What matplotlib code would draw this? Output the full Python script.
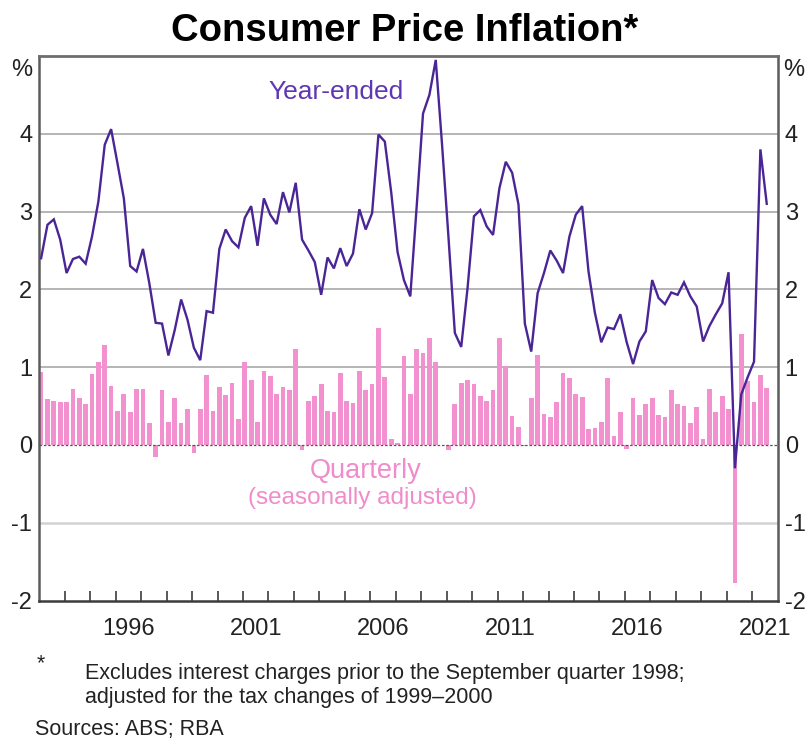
import matplotlib
matplotlib.use("Agg")
import matplotlib.pyplot as plt
import numpy as np

plt.rcParams['font.family'] = ['Liberation Sans', 'DejaVu Sans']

start_year = 1993  # first observation: March quarter 1993, last: September quarter 2021

year_ended = [
    2.40, 2.83, 2.90, 2.64, 2.21, 2.39, 2.42, 2.33,   # 1993-1994
    2.68, 3.13, 3.86, 4.06, 3.62, 3.17, 2.30, 2.23,   # 1995-1996
    2.52, 2.08, 1.57, 1.56, 1.15, 1.48, 1.87, 1.61,   # 1997-1998
    1.25, 1.09, 1.72, 1.70, 2.52, 2.77, 2.62, 2.54,   # 1999-2000
    2.92, 3.07, 2.56, 3.17, 2.96, 2.84, 3.25, 2.99,   # 2001-2002
    3.37, 2.64, 2.50, 2.35, 1.93, 2.41, 2.27, 2.53,   # 2003-2004
    2.30, 2.46, 3.03, 2.77, 2.98, 3.99, 3.90, 3.25,   # 2005-2006
    2.48, 2.12, 1.91, 3.06, 4.26, 4.50, 4.95, 3.85,   # 2007-2008
    2.67, 1.44, 1.26, 2.02, 2.94, 3.02, 2.81, 2.70,   # 2009-2010
    3.30, 3.64, 3.50, 3.09, 1.56, 1.20, 1.95, 2.21,   # 2011-2012
    2.50, 2.37, 2.21, 2.68, 2.96, 3.07, 2.23, 1.70,   # 2013-2014
    1.32, 1.51, 1.49, 1.68, 1.32, 1.04, 1.33, 1.46,   # 2015-2016
    2.12, 1.89, 1.81, 1.96, 1.93, 2.09, 1.91, 1.78,   # 2017-2018
    1.33, 1.53, 1.68, 1.82, 2.22, -0.30, 0.65, 0.87,  # 2019-2020
    1.07, 3.80, 3.10,                                 # 2021
]

quarterly = [
    0.94, 0.59, 0.57, 0.55, 0.55, 0.72, 0.60, 0.53,   # 1993-1994
    0.91, 1.07, 1.28, 0.76, 0.44, 0.66, 0.42, 0.72,   # 1995-1996
    0.72, 0.28, -0.15, 0.70, 0.30, 0.60, 0.28, 0.46,  # 1997-1998
    -0.10, 0.46, 0.90, 0.44, 0.74, 0.64, 0.80, 0.33,  # 1999-2000
    1.07, 0.84, 0.30, 0.95, 0.88, 0.66, 0.75, 0.70,   # 2001-2002
    1.23, -0.06, 0.57, 0.63, 0.78, 0.44, 0.42, 0.93,  # 2003-2004
    0.56, 0.54, 0.95, 0.70, 0.78, 1.50, 0.87, 0.08,   # 2005-2006
    0.02, 1.14, 0.66, 1.23, 1.18, 1.37, 1.07, 0.00,   # 2007-2008
    -0.07, 0.53, 0.80, 0.84, 0.78, 0.63, 0.57, 0.71,  # 2009-2010
    1.37, 1.02, 0.37, 0.23, -0.02, 0.60, 1.15, 0.40,  # 2011-2012
    0.36, 0.55, 0.92, 0.86, 0.65, 0.62, 0.20, 0.22,   # 2013-2014
    0.30, 0.86, 0.12, 0.42, -0.05, 0.60, 0.39, 0.53,  # 2015-2016
    0.60, 0.39, 0.36, 0.70, 0.53, 0.50, 0.28, 0.49,   # 2017-2018
    0.08, 0.72, 0.42, 0.63, 0.46, -1.78, 1.42, 0.82,  # 2019-2020
    0.55, 0.90, 0.73,                                 # 2021
]

year_labels = ["1996", "2001", "2006", "2011", "2016", "2021"]
y_ticks = [-2, -1, 0, 1, 2, 3, 4]

LINE_C = "#4a2596"
TEXT_PURPLE = "#5e37b2"
BAR_C = "#f391d0"
BAR_TEXT = "#f08ccb"
GRID_C = "#b4b4b4"
FS = 17

n = len(year_ended)
x = start_year + 0.07 + 0.25 * np.arange(n)

fig = plt.figure(figsize=(8.09, 7.38), dpi=100)
ax = fig.add_axes([0.0486, 0.1863, 0.9127, 0.7378])

ax.set_xlim(1993, 2022)
ax.set_ylim(-2, 5)

for v in [1, 2, 3, 4]:
    ax.axhline(v, color=GRID_C, lw=1.4, zorder=0)
ax.axhline(-1, color="#d2d2d2", lw=1.8, zorder=0)

ax.bar(x, quarterly, width=0.185, color=BAR_C, edgecolor="none", zorder=2)
ax.axhline(0, color="#555555", lw=0.9, ls=(0, (2, 1.5)), zorder=3)
ax.plot(x, year_ended, color=LINE_C, lw=1.7, zorder=4, solid_joinstyle="miter")

# spines
for s in ["left", "right"]:
    ax.spines[s].set_color("#5c5c5c")
    ax.spines[s].set_linewidth(1.8)
ax.spines["top"].set_color("#6e6e6e")
ax.spines["top"].set_linewidth(2.0)
ax.spines["bottom"].set_color("#3c3c3c")
ax.spines["bottom"].set_linewidth(1.8)

# x ticks: year boundaries, labels centred on years
ax.set_xticks(np.arange(1994, 2022))
ax.set_xticklabels([])
ax.tick_params(axis="x", which="major", direction="in", length=7.5, width=1.2, color="#3c3c3c")
ax.set_xticks([int(y) + 0.5 for y in year_labels], minor=True)
ax.set_xticklabels(year_labels, minor=True, fontsize=FS, color="#222222")
ax.tick_params(axis="x", which="minor", length=0, pad=12.5)

# y ticks on both sides
ax.set_yticks(y_ticks)
ax.set_yticklabels([str(v) for v in y_ticks], fontsize=FS, color="#222222")
ax.tick_params(axis="y", length=0, pad=5, labelleft=True, labelright=True)

# % labels
fig.text(22 / 809, 1 - 70 / 738, "%", fontsize=FS, ha="center", va="center", color="#222222")
fig.text(794 / 809, 1 - 70 / 738, "%", fontsize=FS, ha="center", va="center", color="#222222")

# title
fig.text(0.5, 1 - 31 / 738, "Consumer Price Inflation*", fontsize=27.5, fontweight="bold",
         ha="center", va="center", color="#000000")

# series labels
fig.text(336 / 809, 1 - 92 / 738, "Year-ended", fontsize=19, ha="center", va="center", color=TEXT_PURPLE)
fig.text(366 / 809, 1 - 471 / 738, "Quarterly", fontsize=19.5, ha="center", va="center", color=BAR_TEXT)
fig.text(362 / 809, 1 - 498 / 738, "(seasonally adjusted)", fontsize=17.5, ha="center", va="center", color=BAR_TEXT)

# footnotes
FN = 15.5
fig.text(41 / 809, 1 - 664 / 738, "*", fontsize=FN, ha="center", va="center", color="#222222")
fig.text(85 / 809, 1 - 673 / 738, "Excludes interest charges prior to the September quarter 1998;",
         fontsize=FN, ha="left", va="center", color="#222222")
fig.text(85 / 809, 1 - 697 / 738, "adjusted for the tax changes of 1999\u20132000",
         fontsize=FN, ha="left", va="center", color="#222222")
fig.text(35 / 809, 1 - 729 / 738, "Sources: ABS; RBA", fontsize=FN, ha="left", va="center", color="#222222")

fig.savefig("out.png", dpi=100, facecolor="white")
